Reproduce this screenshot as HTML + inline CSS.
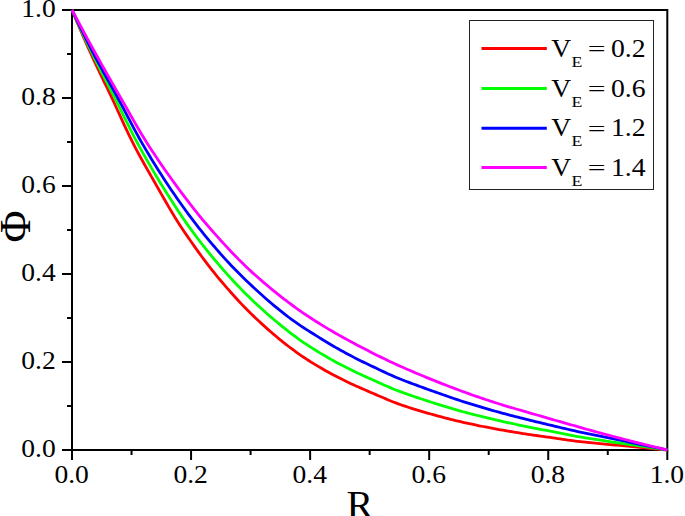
<!DOCTYPE html>
<html><head><meta charset="utf-8"><style>
html,body{margin:0;padding:0;background:#fff;}
svg{display:block;}
text{font-family:"Liberation Serif",serif;fill:#000;}
</style></head><body>
<svg width="685" height="516" viewBox="0 0 685 516">
<rect x="0" y="0" width="685" height="516" fill="#fff"/>
<g stroke="#000" stroke-width="2" fill="none">
<rect x="72.0" y="10.0" width="595.30" height="440.0"/>
<line x1="62.0" y1="450.00" x2="72.0" y2="450.00"/><line x1="67.0" y1="406.00" x2="72.0" y2="406.00"/><line x1="62.0" y1="362.00" x2="72.0" y2="362.00"/><line x1="67.0" y1="318.00" x2="72.0" y2="318.00"/><line x1="62.0" y1="274.00" x2="72.0" y2="274.00"/><line x1="67.0" y1="230.00" x2="72.0" y2="230.00"/><line x1="62.0" y1="186.00" x2="72.0" y2="186.00"/><line x1="67.0" y1="142.00" x2="72.0" y2="142.00"/><line x1="62.0" y1="98.00" x2="72.0" y2="98.00"/><line x1="67.0" y1="54.00" x2="72.0" y2="54.00"/><line x1="62.0" y1="10.00" x2="72.0" y2="10.00"/><line x1="72.00" y1="450.0" x2="72.00" y2="460.0"/><line x1="131.53" y1="450.0" x2="131.53" y2="455.0"/><line x1="191.06" y1="450.0" x2="191.06" y2="460.0"/><line x1="250.59" y1="450.0" x2="250.59" y2="455.0"/><line x1="310.12" y1="450.0" x2="310.12" y2="460.0"/><line x1="369.65" y1="450.0" x2="369.65" y2="455.0"/><line x1="429.18" y1="450.0" x2="429.18" y2="460.0"/><line x1="488.71" y1="450.0" x2="488.71" y2="455.0"/><line x1="548.24" y1="450.0" x2="548.24" y2="460.0"/><line x1="607.77" y1="450.0" x2="607.77" y2="455.0"/><line x1="667.30" y1="450.0" x2="667.30" y2="460.0"/>
</g>
<path d="M72.00,10.00 L74.49,15.96 L76.98,21.86 L79.47,27.70 L81.96,33.48 L84.45,39.19 L86.94,44.84 L89.44,50.42 L91.93,55.93 L94.42,61.33 L96.91,66.64 L99.40,71.89 L101.89,77.09 L104.38,82.27 L106.87,87.46 L109.36,92.67 L111.85,97.93 L114.34,103.28 L116.83,108.72 L119.33,114.20 L121.82,119.67 L124.31,125.11 L126.80,130.46 L129.29,135.68 L131.78,140.73 L134.27,145.59 L136.76,150.34 L139.25,154.98 L141.74,159.53 L144.23,164.01 L146.72,168.43 L149.21,172.81 L151.71,177.16 L154.20,181.50 L156.69,185.85 L159.18,190.23 L161.67,194.61 L164.16,198.97 L166.65,203.30 L169.14,207.58 L171.63,211.79 L174.12,215.92 L176.61,219.97 L179.10,223.91 L181.59,227.73 L184.09,231.44 L186.58,235.09 L189.07,238.71 L191.56,242.29 L194.05,245.84 L196.54,249.35 L199.03,252.81 L201.52,256.23 L204.01,259.59 L206.50,262.90 L208.99,266.16 L211.48,269.34 L213.98,272.47 L216.47,275.52 L218.96,278.53 L221.45,281.48 L223.94,284.41 L226.43,287.31 L228.92,290.17 L231.41,293.00 L233.90,295.78 L236.39,298.53 L238.88,301.22 L241.37,303.88 L243.86,306.48 L246.36,309.03 L248.85,311.53 L251.34,313.97 L253.83,316.38 L256.32,318.74 L258.81,321.06 L261.30,323.36 L263.79,325.64 L266.28,327.88 L268.77,330.10 L271.26,332.28 L273.75,334.43 L276.25,336.54 L278.74,338.61 L281.23,340.63 L283.72,342.62 L286.21,344.58 L288.70,346.50 L291.19,348.38 L293.68,350.23 L296.17,352.04 L298.66,353.82 L301.15,355.55 L303.64,357.24 L306.13,358.90 L308.63,360.51 L311.12,362.08 L313.61,363.62 L316.10,365.13 L318.59,366.61 L321.08,368.07 L323.57,369.50 L326.06,370.91 L328.55,372.30 L331.04,373.66 L333.53,375.00 L336.02,376.31 L338.52,377.60 L341.01,378.85 L343.50,380.08 L345.99,381.29 L348.48,382.48 L350.97,383.65 L353.46,384.80 L355.95,385.93 L358.44,387.04 L360.93,388.15 L363.42,389.24 L365.91,390.31 L368.40,391.38 L370.90,392.45 L373.39,393.52 L375.88,394.60 L378.37,395.68 L380.86,396.75 L383.35,397.82 L385.84,398.88 L388.33,399.92 L390.82,400.94 L393.31,401.93 L395.80,402.89 L398.29,403.82 L400.78,404.71 L403.28,405.57 L405.77,406.41 L408.26,407.24 L410.75,408.05 L413.24,408.84 L415.73,409.61 L418.22,410.38 L420.71,411.12 L423.20,411.86 L425.69,412.58 L428.18,413.30 L430.67,414.00 L433.17,414.69 L435.66,415.38 L438.15,416.06 L440.64,416.72 L443.13,417.38 L445.62,418.03 L448.11,418.67 L450.60,419.30 L453.09,419.92 L455.58,420.52 L458.07,421.12 L460.56,421.71 L463.05,422.29 L465.55,422.85 L468.04,423.40 L470.53,423.94 L473.02,424.47 L475.51,424.99 L478.00,425.51 L480.49,426.01 L482.98,426.50 L485.47,426.99 L487.96,427.47 L490.45,427.94 L492.94,428.41 L495.44,428.87 L497.93,429.32 L500.42,429.77 L502.91,430.21 L505.40,430.65 L507.89,431.08 L510.38,431.50 L512.87,431.92 L515.36,432.33 L517.85,432.73 L520.34,433.13 L522.83,433.52 L525.32,433.91 L527.82,434.29 L530.31,434.67 L532.80,435.04 L535.29,435.40 L537.78,435.76 L540.27,436.11 L542.76,436.46 L545.25,436.80 L547.74,437.13 L550.23,437.47 L552.72,437.82 L555.21,438.18 L557.71,438.55 L560.20,438.92 L562.69,439.29 L565.18,439.66 L567.67,440.02 L570.16,440.37 L572.65,440.70 L575.14,441.02 L577.63,441.31 L580.12,441.59 L582.61,441.84 L585.10,442.10 L587.59,442.34 L590.09,442.59 L592.58,442.83 L595.07,443.07 L597.56,443.31 L600.05,443.54 L602.54,443.79 L605.03,444.03 L607.52,444.28 L610.01,444.52 L612.50,444.76 L614.99,445.00 L617.48,445.23 L619.97,445.45 L622.47,445.67 L624.96,445.90 L627.45,446.12 L629.94,446.35 L632.43,446.58 L634.92,446.81 L637.41,447.05 L639.90,447.29 L642.39,447.53 L644.88,447.77 L647.37,448.02 L649.86,448.26 L652.36,448.50 L654.85,448.75 L657.34,449.00 L659.83,449.25 L662.32,449.50 L664.81,449.75 L667.30,450.00" stroke="#ff0000" stroke-width="2.8" fill="none" stroke-linejoin="round"/>
<path d="M72.00,10.00 L74.49,15.57 L76.98,21.09 L79.47,26.55 L81.96,31.96 L84.45,37.31 L86.94,42.60 L89.44,47.82 L91.93,52.99 L94.42,58.07 L96.91,63.06 L99.40,67.97 L101.89,72.82 L104.38,77.64 L106.87,82.45 L109.36,87.26 L111.85,92.09 L114.34,96.98 L116.83,101.93 L119.33,106.96 L121.82,112.04 L124.31,117.13 L126.80,122.21 L129.29,127.24 L131.78,132.20 L134.27,137.05 L136.76,141.76 L139.25,146.36 L141.74,150.90 L144.23,155.37 L146.72,159.78 L149.21,164.13 L151.71,168.41 L154.20,172.64 L156.69,176.81 L159.18,180.92 L161.67,184.97 L164.16,188.99 L166.65,192.97 L169.14,196.93 L171.63,200.86 L174.12,204.74 L176.61,208.57 L179.10,212.36 L181.59,216.08 L184.09,219.74 L186.58,223.33 L189.07,226.84 L191.56,230.28 L194.05,233.65 L196.54,236.97 L199.03,240.25 L201.52,243.49 L204.01,246.68 L206.50,249.82 L208.99,252.93 L211.48,255.98 L213.98,258.99 L216.47,261.96 L218.96,264.88 L221.45,267.75 L223.94,270.59 L226.43,273.38 L228.92,276.13 L231.41,278.85 L233.90,281.54 L236.39,284.19 L238.88,286.81 L241.37,289.38 L243.86,291.92 L246.36,294.42 L248.85,296.86 L251.34,299.27 L253.83,301.64 L256.32,303.98 L258.81,306.28 L261.30,308.56 L263.79,310.80 L266.28,313.01 L268.77,315.19 L271.26,317.34 L273.75,319.46 L276.25,321.55 L278.74,323.61 L281.23,325.66 L283.72,327.68 L286.21,329.66 L288.70,331.61 L291.19,333.52 L293.68,335.40 L296.17,337.24 L298.66,339.05 L301.15,340.81 L303.64,342.53 L306.13,344.21 L308.63,345.84 L311.12,347.43 L313.61,349.00 L316.10,350.54 L318.59,352.07 L321.08,353.58 L323.57,355.06 L326.06,356.53 L328.55,357.97 L331.04,359.39 L333.53,360.78 L336.02,362.15 L338.52,363.49 L341.01,364.80 L343.50,366.10 L345.99,367.37 L348.48,368.62 L350.97,369.85 L353.46,371.06 L355.95,372.25 L358.44,373.43 L360.93,374.59 L363.42,375.73 L365.91,376.87 L368.40,377.99 L370.90,379.09 L373.39,380.21 L375.88,381.33 L378.37,382.44 L380.86,383.56 L383.35,384.66 L385.84,385.76 L388.33,386.84 L390.82,387.89 L393.31,388.92 L395.80,389.93 L398.29,390.90 L400.78,391.83 L403.28,392.74 L405.77,393.63 L408.26,394.51 L410.75,395.37 L413.24,396.22 L415.73,397.07 L418.22,397.90 L420.71,398.72 L423.20,399.54 L425.69,400.35 L428.18,401.16 L430.67,401.96 L433.17,402.76 L435.66,403.55 L438.15,404.34 L440.64,405.12 L443.13,405.89 L445.62,406.66 L448.11,407.42 L450.60,408.17 L453.09,408.91 L455.58,409.64 L458.07,410.36 L460.56,411.07 L463.05,411.76 L465.55,412.44 L468.04,413.10 L470.53,413.75 L473.02,414.38 L475.51,415.01 L478.00,415.63 L480.49,416.23 L482.98,416.84 L485.47,417.44 L487.96,418.03 L490.45,418.63 L492.94,419.22 L495.44,419.81 L497.93,420.39 L500.42,420.96 L502.91,421.53 L505.40,422.08 L507.89,422.64 L510.38,423.18 L512.87,423.72 L515.36,424.25 L517.85,424.78 L520.34,425.30 L522.83,425.82 L525.32,426.33 L527.82,426.84 L530.31,427.34 L532.80,427.83 L535.29,428.32 L537.78,428.81 L540.27,429.29 L542.76,429.77 L545.25,430.24 L547.74,430.71 L550.23,431.19 L552.72,431.68 L555.21,432.18 L557.71,432.68 L560.20,433.19 L562.69,433.70 L565.18,434.21 L567.67,434.71 L570.16,435.19 L572.65,435.67 L575.14,436.13 L577.63,436.56 L580.12,436.98 L582.61,437.38 L585.10,437.77 L587.59,438.16 L590.09,438.55 L592.58,438.94 L595.07,439.33 L597.56,439.72 L600.05,440.10 L602.54,440.49 L605.03,440.88 L607.52,441.27 L610.01,441.66 L612.50,442.04 L614.99,442.40 L617.48,442.76 L619.97,443.11 L622.47,443.46 L624.96,443.81 L627.45,444.16 L629.94,444.51 L632.43,444.86 L634.92,445.22 L637.41,445.59 L639.90,445.95 L642.39,446.32 L644.88,446.68 L647.37,447.05 L649.86,447.41 L652.36,447.78 L654.85,448.15 L657.34,448.52 L659.83,448.89 L662.32,449.26 L664.81,449.63 L667.30,450.00" stroke="#00ff00" stroke-width="2.8" fill="none" stroke-linejoin="round"/>
<path d="M72.00,10.00 L74.49,15.26 L76.98,20.46 L79.47,25.61 L81.96,30.71 L84.45,35.75 L86.94,40.73 L89.44,45.66 L91.93,50.52 L94.42,55.32 L96.91,60.03 L99.40,64.65 L101.89,69.20 L104.38,73.71 L106.87,78.18 L109.36,82.64 L111.85,87.11 L114.34,91.61 L116.83,96.15 L119.33,100.76 L121.82,105.44 L124.31,110.17 L126.80,114.93 L129.29,119.69 L131.78,124.42 L134.27,129.10 L136.76,133.70 L139.25,138.20 L141.74,142.57 L144.23,146.86 L146.72,151.10 L149.21,155.28 L151.71,159.41 L154.20,163.48 L156.69,167.50 L159.18,171.46 L161.67,175.36 L164.16,179.21 L166.65,183.00 L169.14,186.73 L171.63,190.42 L174.12,194.08 L176.61,197.69 L179.10,201.26 L181.59,204.79 L184.09,208.27 L186.58,211.71 L189.07,215.09 L191.56,218.42 L194.05,221.69 L196.54,224.92 L199.03,228.09 L201.52,231.20 L204.01,234.27 L206.50,237.32 L208.99,240.33 L211.48,243.30 L213.98,246.24 L216.47,249.14 L218.96,252.00 L221.45,254.82 L223.94,257.59 L226.43,260.33 L228.92,263.02 L231.41,265.67 L233.90,268.27 L236.39,270.83 L238.88,273.34 L241.37,275.80 L243.86,278.24 L246.36,280.65 L248.85,283.03 L251.34,285.39 L253.83,287.72 L256.32,290.03 L258.81,292.30 L261.30,294.55 L263.79,296.77 L266.28,298.96 L268.77,301.12 L271.26,303.25 L273.75,305.35 L276.25,307.42 L278.74,309.45 L281.23,311.45 L283.72,313.42 L286.21,315.36 L288.70,317.26 L291.19,319.13 L293.68,320.95 L296.17,322.71 L298.66,324.43 L301.15,326.10 L303.64,327.74 L306.13,329.34 L308.63,330.92 L311.12,332.48 L313.61,334.04 L316.10,335.60 L318.59,337.15 L321.08,338.69 L323.57,340.22 L326.06,341.74 L328.55,343.24 L331.04,344.73 L333.53,346.19 L336.02,347.63 L338.52,349.05 L341.01,350.45 L343.50,351.83 L345.99,353.18 L348.48,354.52 L350.97,355.83 L353.46,357.13 L355.95,358.40 L358.44,359.66 L360.93,360.91 L363.42,362.13 L365.91,363.34 L368.40,364.53 L370.90,365.71 L373.39,366.89 L375.88,368.08 L378.37,369.26 L380.86,370.44 L383.35,371.61 L385.84,372.77 L388.33,373.92 L390.82,375.04 L393.31,376.14 L395.80,377.21 L398.29,378.25 L400.78,379.25 L403.28,380.23 L405.77,381.19 L408.26,382.14 L410.75,383.08 L413.24,384.01 L415.73,384.93 L418.22,385.85 L420.71,386.75 L423.20,387.66 L425.69,388.56 L428.18,389.46 L430.67,390.36 L433.17,391.25 L435.66,392.15 L438.15,393.03 L440.64,393.92 L443.13,394.79 L445.62,395.66 L448.11,396.53 L450.60,397.39 L453.09,398.24 L455.58,399.08 L458.07,399.91 L460.56,400.74 L463.05,401.55 L465.55,402.35 L468.04,403.14 L470.53,403.92 L473.02,404.69 L475.51,405.45 L478.00,406.20 L480.49,406.94 L482.98,407.68 L485.47,408.41 L487.96,409.13 L490.45,409.85 L492.94,410.56 L495.44,411.26 L497.93,411.95 L500.42,412.63 L502.91,413.30 L505.40,413.97 L507.89,414.63 L510.38,415.29 L512.87,415.93 L515.36,416.57 L517.85,417.21 L520.34,417.84 L522.83,418.46 L525.32,419.08 L527.82,419.70 L530.31,420.31 L532.80,420.92 L535.29,421.53 L537.78,422.13 L540.27,422.73 L542.76,423.33 L545.25,423.93 L547.74,424.52 L550.23,425.12 L552.72,425.71 L555.21,426.31 L557.71,426.90 L560.20,427.49 L562.69,428.08 L565.18,428.67 L567.67,429.25 L570.16,429.82 L572.65,430.39 L575.14,430.96 L577.63,431.51 L580.12,432.06 L582.61,432.59 L585.10,433.11 L587.59,433.62 L590.09,434.12 L592.58,434.61 L595.07,435.10 L597.56,435.59 L600.05,436.08 L602.54,436.58 L605.03,437.08 L607.52,437.59 L610.01,438.11 L612.50,438.63 L614.99,439.15 L617.48,439.67 L619.97,440.19 L622.47,440.71 L624.96,441.23 L627.45,441.76 L629.94,442.28 L632.43,442.80 L634.92,443.31 L637.41,443.83 L639.90,444.35 L642.39,444.87 L644.88,445.38 L647.37,445.90 L649.86,446.41 L652.36,446.93 L654.85,447.44 L657.34,447.95 L659.83,448.47 L662.32,448.98 L664.81,449.49 L667.30,450.00" stroke="#0000ff" stroke-width="2.8" fill="none" stroke-linejoin="round"/>
<path d="M72.00,10.00 L74.49,14.70 L76.98,19.38 L79.47,24.03 L81.96,28.66 L84.45,33.27 L86.94,37.86 L89.44,42.42 L91.93,46.96 L94.42,51.48 L96.91,55.97 L99.40,60.43 L101.89,64.87 L104.38,69.28 L106.87,73.67 L109.36,78.04 L111.85,82.39 L114.34,86.74 L116.83,91.08 L119.33,95.41 L121.82,99.75 L124.31,104.11 L126.80,108.50 L129.29,112.90 L131.78,117.29 L134.27,121.65 L136.76,125.97 L139.25,130.23 L141.74,134.42 L144.23,138.51 L146.72,142.49 L149.21,146.39 L151.71,150.24 L154.20,154.03 L156.69,157.77 L159.18,161.46 L161.67,165.09 L164.16,168.69 L166.65,172.25 L169.14,175.76 L171.63,179.24 L174.12,182.68 L176.61,186.08 L179.10,189.46 L181.59,192.80 L184.09,196.12 L186.58,199.41 L189.07,202.66 L191.56,205.87 L194.05,209.05 L196.54,212.18 L199.03,215.27 L201.52,218.31 L204.01,221.31 L206.50,224.27 L208.99,227.17 L211.48,230.03 L213.98,232.85 L216.47,235.65 L218.96,238.43 L221.45,241.19 L223.94,243.92 L226.43,246.63 L228.92,249.30 L231.41,251.93 L233.90,254.54 L236.39,257.10 L238.88,259.63 L241.37,262.11 L243.86,264.56 L246.36,266.95 L248.85,269.31 L251.34,271.61 L253.83,273.86 L256.32,276.07 L258.81,278.26 L261.30,280.43 L263.79,282.57 L266.28,284.68 L268.77,286.77 L271.26,288.84 L273.75,290.88 L276.25,292.89 L278.74,294.88 L281.23,296.84 L283.72,298.77 L286.21,300.68 L288.70,302.57 L291.19,304.42 L293.68,306.25 L296.17,308.05 L298.66,309.82 L301.15,311.56 L303.64,313.28 L306.13,314.97 L308.63,316.63 L311.12,318.26 L313.61,319.87 L316.10,321.46 L318.59,323.03 L321.08,324.58 L323.57,326.11 L326.06,327.62 L328.55,329.10 L331.04,330.57 L333.53,332.02 L336.02,333.45 L338.52,334.87 L341.01,336.27 L343.50,337.66 L345.99,339.03 L348.48,340.39 L350.97,341.74 L353.46,343.07 L355.95,344.40 L358.44,345.71 L360.93,347.01 L363.42,348.30 L365.91,349.59 L368.40,350.86 L370.90,352.13 L373.39,353.39 L375.88,354.64 L378.37,355.89 L380.86,357.12 L383.35,358.35 L385.84,359.56 L388.33,360.75 L390.82,361.94 L393.31,363.10 L395.80,364.25 L398.29,365.38 L400.78,366.49 L403.28,367.59 L405.77,368.68 L408.26,369.76 L410.75,370.83 L413.24,371.89 L415.73,372.95 L418.22,374.00 L420.71,375.04 L423.20,376.07 L425.69,377.09 L428.18,378.11 L430.67,379.13 L433.17,380.13 L435.66,381.13 L438.15,382.12 L440.64,383.10 L443.13,384.08 L445.62,385.05 L448.11,386.01 L450.60,386.96 L453.09,387.91 L455.58,388.85 L458.07,389.78 L460.56,390.71 L463.05,391.62 L465.55,392.53 L468.04,393.43 L470.53,394.32 L473.02,395.20 L475.51,396.07 L478.00,396.93 L480.49,397.79 L482.98,398.63 L485.47,399.47 L487.96,400.29 L490.45,401.11 L492.94,401.92 L495.44,402.71 L497.93,403.50 L500.42,404.28 L502.91,405.04 L505.40,405.80 L507.89,406.55 L510.38,407.29 L512.87,408.03 L515.36,408.76 L517.85,409.49 L520.34,410.21 L522.83,410.93 L525.32,411.65 L527.82,412.36 L530.31,413.08 L532.80,413.79 L535.29,414.50 L537.78,415.22 L540.27,415.93 L542.76,416.65 L545.25,417.37 L547.74,418.09 L550.23,418.82 L552.72,419.54 L555.21,420.26 L557.71,420.98 L560.20,421.70 L562.69,422.41 L565.18,423.13 L567.67,423.84 L570.16,424.55 L572.65,425.26 L575.14,425.96 L577.63,426.67 L580.12,427.38 L582.61,428.08 L585.10,428.79 L587.59,429.49 L590.09,430.18 L592.58,430.87 L595.07,431.56 L597.56,432.25 L600.05,432.93 L602.54,433.60 L605.03,434.27 L607.52,434.94 L610.01,435.60 L612.50,436.25 L614.99,436.91 L617.48,437.56 L619.97,438.20 L622.47,438.85 L624.96,439.49 L627.45,440.13 L629.94,440.77 L632.43,441.40 L634.92,442.04 L637.41,442.67 L639.90,443.29 L642.39,443.92 L644.88,444.54 L647.37,445.16 L649.86,445.77 L652.36,446.38 L654.85,446.99 L657.34,447.60 L659.83,448.21 L662.32,448.81 L664.81,449.40 L667.30,450.00" stroke="#ff00ff" stroke-width="2.8" fill="none" stroke-linejoin="round"/>

<g font-size="26">
<text transform="translate(55.7,456.70) scale(1.06,1)" text-anchor="end">0.0</text><text transform="translate(55.7,368.70) scale(1.06,1)" text-anchor="end">0.2</text><text transform="translate(55.7,280.70) scale(1.06,1)" text-anchor="end">0.4</text><text transform="translate(55.7,192.70) scale(1.06,1)" text-anchor="end">0.6</text><text transform="translate(55.7,104.70) scale(1.06,1)" text-anchor="end">0.8</text><text transform="translate(55.7,16.70) scale(1.06,1)" text-anchor="end">1.0</text>
<text transform="translate(71.60,482.6) scale(1.06,1)" text-anchor="middle">0.0</text><text transform="translate(190.66,482.6) scale(1.06,1)" text-anchor="middle">0.2</text><text transform="translate(309.72,482.6) scale(1.06,1)" text-anchor="middle">0.4</text><text transform="translate(428.78,482.6) scale(1.06,1)" text-anchor="middle">0.6</text><text transform="translate(547.84,482.6) scale(1.06,1)" text-anchor="middle">0.8</text><text transform="translate(666.90,482.6) scale(1.06,1)" text-anchor="middle">1.0</text>
</g>
<rect x="469.5" y="20.5" width="184" height="169" fill="#fff" stroke="#222" stroke-width="1"/>
<line x1="481.5" y1="48.50" x2="546.8" y2="48.50" stroke="#ff0000" stroke-width="3"/><text transform="translate(551.3,56.50) scale(1.06,1)" font-size="26">V</text><text transform="translate(571.5,66.60) scale(1.15,1)" font-size="15.5">E</text><text transform="translate(587.7,55.80) scale(1.22,0.78)" font-size="26">=</text><text transform="translate(610.9,56.50) scale(1.065,1)" font-size="26">0.2</text><line x1="481.5" y1="88.50" x2="546.8" y2="88.50" stroke="#00ff00" stroke-width="3"/><text transform="translate(551.3,96.50) scale(1.06,1)" font-size="26">V</text><text transform="translate(571.5,106.60) scale(1.15,1)" font-size="15.5">E</text><text transform="translate(587.7,95.80) scale(1.22,0.78)" font-size="26">=</text><text transform="translate(610.9,96.50) scale(1.065,1)" font-size="26">0.6</text><line x1="481.5" y1="128.30" x2="546.8" y2="128.30" stroke="#0000ff" stroke-width="3"/><text transform="translate(551.3,136.30) scale(1.06,1)" font-size="26">V</text><text transform="translate(571.5,146.40) scale(1.15,1)" font-size="15.5">E</text><text transform="translate(587.7,135.60) scale(1.22,0.78)" font-size="26">=</text><text transform="translate(610.9,136.30) scale(1.065,1)" font-size="26">1.2</text><line x1="481.5" y1="167.50" x2="546.8" y2="167.50" stroke="#ff00ff" stroke-width="3"/><text transform="translate(551.3,175.50) scale(1.06,1)" font-size="26">V</text><text transform="translate(571.5,185.60) scale(1.15,1)" font-size="15.5">E</text><text transform="translate(587.7,174.80) scale(1.22,0.78)" font-size="26">=</text><text transform="translate(610.9,175.50) scale(1.065,1)" font-size="26">1.4</text>
<text x="0" y="0" font-size="44" transform="translate(30,226.5) rotate(-90)" text-anchor="middle">Φ</text>
<text x="346.6" y="518.3" font-size="40">R</text>
</svg>
</body></html>
